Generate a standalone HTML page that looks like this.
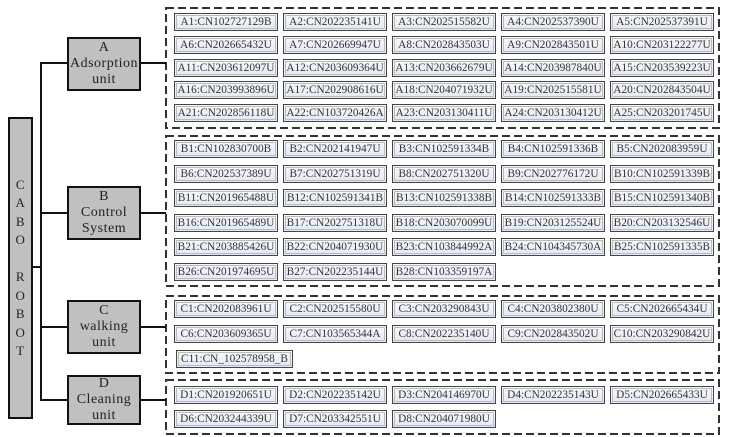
<!DOCTYPE html>
<html><head><meta charset="utf-8"><style>
*{box-sizing:border-box;margin:0;padding:0}
body{width:729px;height:437px;background:#fff;position:relative;overflow:hidden;font-family:"Liberation Serif","Noto Serif CJK SC",serif;color:#333}
.ln{position:absolute;background:#111}
.box{position:absolute;background:#c0c0c0;border:2px solid #111;text-align:center;font-size:14px;line-height:16px;color:#222;display:flex;flex-direction:column;justify-content:center;letter-spacing:.5px}
.g{position:absolute;left:174px;display:grid;grid-template-columns:repeat(5,104px);column-gap:5px}
.g div{height:18px;border:1px solid #444;outline:1px solid #bbb;outline-offset:-3px;background:linear-gradient(#f7f9fd,#e3e8f2);font-size:11.3px;line-height:16px;text-align:center;white-space:nowrap;letter-spacing:0;overflow:hidden}
svg{position:absolute;left:0;top:0}
</style></head><body>
<svg width="729" height="437">
<g fill="none" stroke="#333" stroke-width="2" stroke-dasharray="8,4">
<rect x="166" y="8" width="553" height="120"/>
<rect x="166" y="136" width="553" height="150"/>
<rect x="166" y="296" width="553" height="77"/>
<rect x="166" y="380" width="553" height="54"/>
</g>
</svg>
<div class="box" style="left:8px;top:117px;width:25px;height:302px;line-height:18.5px;font-size:13px">C<br>A<br>B<br>O<br><br>R<br>O<br>B<br>O<br>T</div>
<div class="ln" style="left:32px;top:266px;width:10px;height:2px"></div>
<div class="ln" style="left:40px;top:62px;width:2px;height:339px"></div>
<div class="ln" style="left:40px;top:62px;width:29px;height:2px"></div>
<div class="ln" style="left:40px;top:212px;width:29px;height:2px"></div>
<div class="ln" style="left:40px;top:326px;width:29px;height:2px"></div>
<div class="ln" style="left:40px;top:399px;width:29px;height:2px"></div>
<div class="ln" style="left:139px;top:62px;width:27px;height:2px"></div>
<div class="ln" style="left:139px;top:212px;width:27px;height:2px"></div>
<div class="ln" style="left:139px;top:326px;width:27px;height:2px"></div>
<div class="ln" style="left:139px;top:399px;width:27px;height:2px"></div>
<div class="box" style="left:67px;top:37px;width:74px;height:54px">A<br>Adsorption<br>unit</div>
<div class="box" style="left:67px;top:186px;width:74px;height:54px">B<br>Control<br>System</div>
<div class="box" style="left:67px;top:300px;width:74px;height:54px">C<br>walking<br>unit</div>
<div class="box" style="left:67px;top:375px;width:74px;height:50px">D<br>Cleaning<br>unit</div>

<div class="g" style="top:13px;row-gap:4.8px">
<div>A1:CN102727129B</div><div>A2:CN202235141U</div><div>A3:CN202515582U</div><div>A4:CN202537390U</div><div>A5:CN202537391U</div>
<div>A6:CN202665432U</div><div>A7:CN202669947U</div><div>A8:CN202843503U</div><div>A9:CN202843501U</div><div>A10:CN203122277U</div>
<div>A11:CN203612097U</div><div>A12:CN203609364U</div><div>A13:CN203662679U</div><div>A14:CN203987840U</div><div>A15:CN203539223U</div>
<div>A16:CN203993896U</div><div>A17:CN202908616U</div><div>A18:CN204071932U</div><div>A19:CN202515581U</div><div>A20:CN202843504U</div>
<div>A21:CN202856118U</div><div>A22:CN103720426A</div><div>A23:CN203130411U</div><div>A24:CN203130412U</div><div>A25:CN203201745U</div>
</div>
<div class="g" style="top:140px;row-gap:6.6px">
<div>B1:CN102830700B</div><div>B2:CN202141947U</div><div>B3:CN102591334B</div><div>B4:CN102591336B</div><div>B5:CN202083959U</div>
<div>B6:CN202537389U</div><div>B7:CN202751319U</div><div>B8:CN202751320U</div><div>B9:CN202776172U</div><div>B10:CN102591339B</div>
<div>B11:CN201965488U</div><div>B12:CN102591341B</div><div>B13:CN102591338B</div><div>B14:CN102591333B</div><div>B15:CN102591340B</div>
<div>B16:CN201965489U</div><div>B17:CN202751318U</div><div>B18:CN203070099U</div><div>B19:CN203125524U</div><div>B20:CN203132546U</div>
<div>B21:CN203885426U</div><div>B22:CN204071930U</div><div>B23:CN103844992A</div><div>B24:CN104345730A</div><div>B25:CN102591335B</div>
<div>B26:CN201974695U</div><div>B27:CN202235144U</div><div>B28:CN103359197A</div>
</div>
<div class="g" style="top:300px;row-gap:7px">
<div>C1:CN202083961U</div><div>C2:CN202515580U</div><div>C3:CN203290843U</div><div>C4:CN203802380U</div><div>C5:CN202665434U</div>
<div>C6:CN203609365U</div><div>C7:CN103565344A</div><div>C8:CN202235140U</div><div>C9:CN202843502U</div><div>C10:CN203290842U</div>
<div style="width:117px;margin-left:2px">C11:CN_102578958_B</div>
</div>
<div class="g" style="top:386px;row-gap:6px">
<div>D1:CN201920651U</div><div>D2:CN202235142U</div><div>D3:CN204146970U</div><div>D4:CN202235143U</div><div>D5:CN202665433U</div>
<div>D6:CN203244339U</div><div>D7:CN203342551U</div><div>D8:CN204071980U</div>
</div>
</body></html>
